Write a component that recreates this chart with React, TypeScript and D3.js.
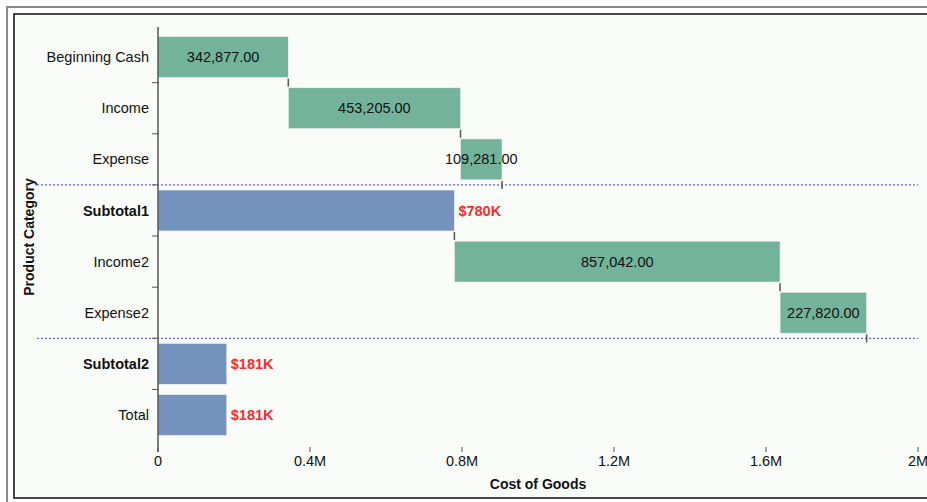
import React from "react";
import * as d3 from "d3";

const categories = ["Beginning Cash", "Income", "Expense", "Subtotal1", "Income2", "Expense2", "Subtotal2", "Total"];
const values = [342877, 453205, 109281, 780000, 857042, 227820, 181000, 181000];
const kinds = ["delta", "delta", "delta", "total", "delta", "delta", "total", "total"];
const boldCats = ["Subtotal1", "Subtotal2"];
const xTicks = [0, 400000, 800000, 1200000, 1600000, 2000000];
const dividerAfter = ["Expense", "Expense2"];

const W = 927;
const H = 502;
const FONT = "'Liberation Sans', Arial, sans-serif";
const FS = 14.5;

export default function App() {
  const x = d3.scaleLinear().domain([0, 2000000]).range([158, 918]);
  const y = d3.scaleBand<string>().domain(categories).range([31.5, 440.6]).paddingInner(0).paddingOuter(0);
  const step = y.step();
  const inset = step * 0.1;
  const bh = step * 0.8;

  let running = 0;
  const bars = categories.map((c, i) => {
    let s: number, e: number;
    if (kinds[i] === "total") {
      s = 0;
      e = values[i];
      running = values[i];
    } else {
      s = running;
      e = running + values[i];
      running = e;
    }
    return { c, s, e, v: values[i], kind: kinds[i] };
  });

  const fmtNum = d3.format(",.2f");
  const fmtK = (v: number) => "$" + Math.round(v / 1000) + "K";
  const fmtTick = (v: number) => (v === 0 ? "0" : d3.format("~g")(v / 1e6) + "M");

  return (
    <svg width={W} height={H} style={{ position: "absolute", left: 0, top: 0, fontFamily: FONT }}>
      <rect x={0} y={0} width={W} height={H} fill="#ffffff" />
      <rect x={7} y={7} width={W + 10} height={H + 10} fill="none" stroke="#8a8a8a" strokeWidth={2} />
      <rect x={14} y={14} width={W + 10} height={484} fill="#fafcfa" stroke="#1a1a1a" strokeWidth={1.6} />

      {/* bars */}
      {bars.map((b) => (
        <rect
          key={b.c}
          x={x(Math.min(b.s, b.e))}
          y={(y(b.c) as number) + inset}
          width={Math.abs(x(b.e) - x(b.s))}
          height={bh}
          fill={b.kind === "total" ? "#7592be" : "#74b39b"}
          stroke="#f2f6f4"
          strokeWidth={0.6}
        />
      ))}

      {/* divider lines */}
      {dividerAfter.map((c) => {
        const yy = (y(c) as number) + step;
        return (
          <line key={c} x1={37} x2={918} y1={yy} y2={yy} stroke="#3a3aff" strokeWidth={1} strokeDasharray="2,2" />
        );
      })}

      {/* connectors */}
      {bars.slice(0, 6).map((b) => {
        const yy = (y(b.c) as number) + step;
        return <line key={"cn" + b.c} x1={x(b.e)} x2={x(b.e)} y1={yy - 4} y2={yy + 4} stroke="#555" strokeWidth={1.5} />;
      })}

      {/* y axis */}
      <line x1={158} x2={158} y1={27} y2={452} stroke="#555" strokeWidth={1.5} />
      {categories.slice(0, -1).map((c) => {
        const yy = (y(c) as number) + step;
        return <line key={"yt" + c} x1={152} x2={158} y1={yy} y2={yy} stroke="#555" strokeWidth={1} />;
      })}
      {categories.map((c) => (
        <text
          key={"yl" + c}
          x={149}
          y={(y(c) as number) + step / 2}
          dy="0.35em"
          textAnchor="end"
          fontSize={FS}
          fontWeight={boldCats.includes(c) ? "bold" : "normal"}
          fill="#111"
        >
          {c}
        </text>
      ))}

      {/* x axis ticks */}
      {xTicks.map((t) => (
        <g key={"xt" + t}>
          <line x1={x(t)} x2={x(t)} y1={447} y2={452} stroke="#555" strokeWidth={1} />
          <text x={x(t)} y={466} textAnchor="middle" fontSize={FS} fill="#111">
            {fmtTick(t)}
          </text>
        </g>
      ))}

      {/* value labels */}
      {bars.map((b) =>
        b.kind === "total" ? (
          <text
            key={"vl" + b.c}
            x={x(b.e) + 4}
            y={(y(b.c) as number) + step / 2}
            dy="0.35em"
            fontSize={FS}
            fontWeight="bold"
            fill="#ff2a2a"
          >
            {fmtK(b.v)}
          </text>
        ) : (
          <text
            key={"vl" + b.c}
            x={(x(b.s) + x(b.e)) / 2}
            y={(y(b.c) as number) + step / 2}
            dy="0.35em"
            textAnchor="middle"
            fontSize={FS}
            fill="#111"
          >
            {fmtNum(b.v)}
          </text>
        )
      )}

      {/* axis titles */}
      <text x={538} y={489} textAnchor="middle" fontSize={14} fontWeight="bold" fill="#111">
        Cost of Goods
      </text>
      <text
        transform={`translate(34, 237) rotate(-90)`}
        textAnchor="middle"
        fontSize={14}
        fontWeight="bold"
        fill="#111"
      >
        Product Category
      </text>
    </svg>
  );
}
